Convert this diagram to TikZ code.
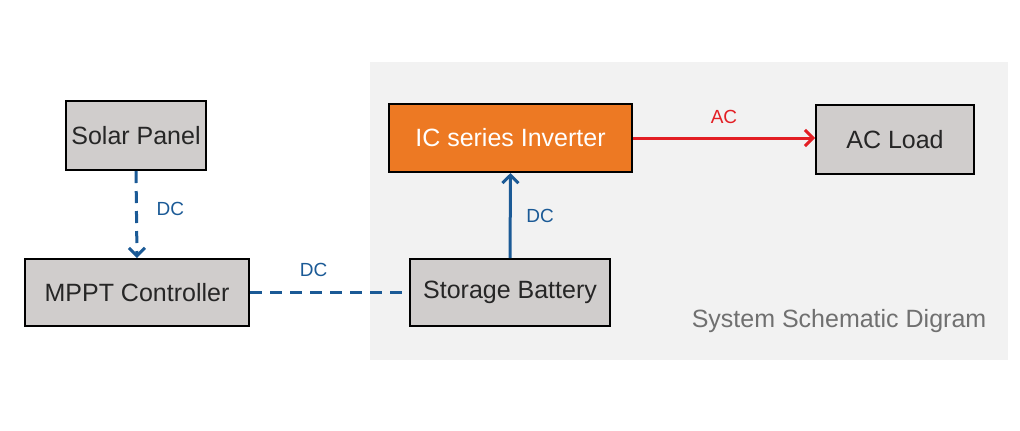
\documentclass[tikz,border=0pt]{standalone}
\usepackage{fontspec}
\setmainfont{Liberation Sans}
\usetikzlibrary{arrows.meta}

\definecolor{boxgray}{HTML}{D0CDCC}
\definecolor{bggray}{HTML}{F2F2F2}
\definecolor{invorange}{HTML}{ED7923}
\definecolor{dcblue}{HTML}{1B5A96}
\definecolor{acred}{HTML}{E31E24}
\definecolor{notegray}{HTML}{707070}

\tikzset{
    unit/.style={draw=black, line width=1pt, fill=boxgray, text=black!85,
        font=\fontsize{12.5}{15}\selectfont, inner sep=0pt},
    dcline/.style={dcblue, line width=1.5pt},
    flowlabel/.style={font=\fontsize{9.5}{11}\selectfont}
}

\begin{document}
\begin{tikzpicture}[x=0.5pt, y=-0.5pt]
    % 画布与系统背景
    \useasboundingbox (0,0) rectangle (1020,430);
    \fill[bggray] (370,62) rectangle (1008,360);

    % 各部件
    \node[unit, minimum width=70pt, minimum height=34.5pt] (panel) at (136,135.5) {Solar Panel};
    \node[unit, minimum width=112pt, minimum height=33.5pt] (mppt) at (137,292.5) {MPPT Controller};
    \node[unit, minimum width=100pt, minimum height=33.5pt] (battery) at (510,292.5) {Storage Battery};
    \node[unit, fill=invorange, text=white, minimum width=121.5pt, minimum height=34pt] (inverter) at (510.5,138) {IC series Inverter};
    \node[unit, minimum width=79pt, minimum height=34.5pt] (load) at (895,139.5) {AC Load};

    % 连线
    \draw[dcline, dash pattern=on 6pt off 4pt, -{Straight Barb[length=4pt, width=8pt]}] (panel.south) -- (mppt.north)
        node[midway, right, xshift=6pt, yshift=3pt, flowlabel, text=dcblue] {DC};
    \draw[dcline, dash pattern=on 6pt off 4pt] (mppt.east) -- (battery.west)
        node[pos=0.4, above, yshift=4pt, flowlabel, text=dcblue] {DC};
    \draw[dcline, -{Straight Barb[length=4pt, width=8pt]}] (battery.north) -- (inverter.south)
        node[midway, right, xshift=4pt, flowlabel, text=dcblue] {DC};
    \draw[acred, line width=1.5pt, -{Straight Barb[length=4pt, width=8pt]}] (inverter.east) -- (inverter.east -| load.west)
        node[midway, above, yshift=3pt, flowlabel, text=acred] {AC};

    % 标题
    \node[text=notegray, font=\fontsize{12.5}{15}\selectfont] (title) at (839,321) {System Schematic Digram};
\end{tikzpicture}
\end{document}
